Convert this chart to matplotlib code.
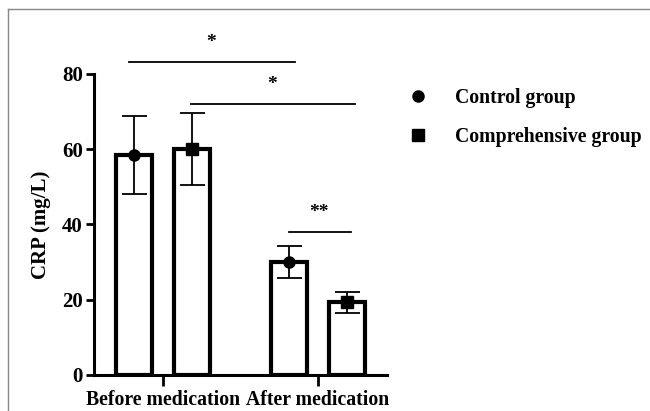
import matplotlib.pyplot as plt
from matplotlib.lines import Line2D

plt.rcParams['font.family'] = ['Liberation Serif', 'DejaVu Serif']
plt.rcParams['font.weight'] = 'bold'

groups = ['Before medication', 'After medication']
series = ['Control group', 'Comprehensive group']
markers = ['o', 's']
means = [[58.5, 30.0], [60.0, 19.3]]
sds = [[10.4, 4.2], [9.6, 2.8]]
yticks = [0, 20, 40, 60, 80]

# significance brackets: (x start, x end, y, label)
sig = [(-0.22, 0.85, 83.2, '*'), (0.18, 1.24, 72.0, '*'), (0.81, 1.21, 38.0, '**')]

fig = plt.figure(figsize=(6.5, 4.11), dpi=100)
ax = fig.add_axes([0.1446, 0.0876, 0.4508, 0.7324])

offs = [-0.19, 0.19]
w = 0.232
for i, s in enumerate(series):
    xs = [g + offs[i] for g in range(len(groups))]
    ax.bar(xs, means[i], width=w, color='white', edgecolor='black', linewidth=3, zorder=2)
    ax.errorbar(xs, means[i], yerr=sds[i], fmt='none', ecolor='black', elinewidth=1.3,
                capsize=9, capthick=1.3, zorder=3)
    ax.plot(xs, means[i], linestyle='none', marker=markers[i], color='black', markersize=8, zorder=4)

for x0, x1, y, lab in sig:
    ax.plot([x0, x1], [y, y], color='black', linewidth=1.3, clip_on=False)
    ax.text((x0 + x1) / 2 - 0.005, y + 3, lab, ha='center', va='bottom', fontsize=14, fontweight='bold')

ax.set_xlim(-0.445, 1.445)
ax.set_ylim(0, 80)
ax.set_xticks(range(len(groups)))
ax.set_xticklabels(groups, fontsize=14.2, fontweight='bold')
ax.set_yticks(yticks)
ax.set_yticklabels([str(t) for t in yticks], fontsize=15, fontweight='bold')
ax.set_ylabel('CRP (mg/L)', fontsize=15, fontweight='bold', labelpad=8)
ax.tick_params(axis='y', width=2, length=6, direction='out', pad=2)
ax.tick_params(axis='x', width=2, length=8, direction='out', pad=3)
for sp in ['top', 'right']:
    ax.spines[sp].set_visible(False)
for sp in ['left', 'bottom']:
    ax.spines[sp].set_linewidth(2.2)

handles = [Line2D([], [], linestyle='none', marker=m, color='black', markersize=8) for m in markers]
fig.legend(handles, series, loc='upper left', bbox_to_anchor=(0.6, 0.83), frameon=False,
           prop={'size': 14.2, 'weight': 'bold'}, handlelength=1.0, handletextpad=1.4,
           labelspacing=1.0)

# light frame on top and left edges
fig.add_artist(Line2D([0.012, 1.0], [0.979, 0.979], color='#888888', linewidth=1))
fig.add_artist(Line2D([0.012, 0.012], [0.0, 0.979], color='#888888', linewidth=1))

fig.savefig('out.png', dpi=100)
